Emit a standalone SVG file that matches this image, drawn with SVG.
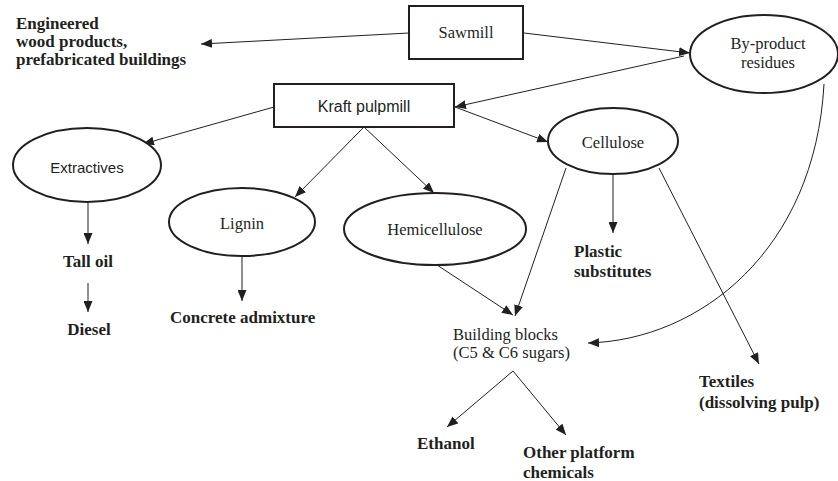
<svg xmlns="http://www.w3.org/2000/svg" width="838" height="481" viewBox="0 0 838 481">
<style>
.node{fill:#fff;stroke:#231f20;stroke-width:2}
.serif{font-family:"Liberation Serif","Times New Roman",serif;font-size:16.5px;fill:#231f20}
.bold{font-family:"Liberation Serif","Times New Roman",serif;font-size:17px;font-weight:bold;fill:#231f20}
.sans{font-family:"Liberation Sans",Arial,sans-serif;fill:#231f20}
.c{text-anchor:middle}
.edge{fill:none;stroke:#231f20;stroke-width:1;marker-end:url(#ah)}
</style>
<defs>
<marker id="ah" markerUnits="userSpaceOnUse" markerWidth="11" markerHeight="9" refX="11" refY="4.5" orient="auto">
<path d="M0,0 L11,4.5 L0,9 z" fill="#231f20"/>
</marker>
</defs>
<rect width="838" height="481" fill="#fff"/>
<g id="connectors">
<line class="edge" x1="409" y1="33" x2="201" y2="44"/>
<line class="edge" x1="524" y1="33" x2="690" y2="53"/>
<line class="edge" x1="684" y1="56" x2="455" y2="107"/>
<line class="edge" x1="455" y1="107" x2="548" y2="142"/>
<line class="edge" x1="274" y1="107" x2="143" y2="144"/>
<line class="edge" x1="364" y1="127" x2="295" y2="197"/>
<line class="edge" x1="364" y1="127" x2="434" y2="193"/>
<line class="edge" x1="88" y1="203" x2="88" y2="244"/>
<line class="edge" x1="88" y1="283" x2="88" y2="312"/>
<line class="edge" x1="242" y1="257" x2="242" y2="301"/>
<line class="edge" x1="437" y1="265" x2="513" y2="315"/>
<line class="edge" x1="566" y1="168" x2="515" y2="316"/>
<line class="edge" x1="613" y1="175" x2="613" y2="233"/>
<line class="edge" x1="659" y1="168" x2="759" y2="364"/>
<path class="edge" d="M824,84 C815,250 700,340 588,343"/>
<line class="edge" x1="513" y1="371" x2="447" y2="427"/>
<line class="edge" x1="513" y1="371" x2="566" y2="435"/>
</g>
<g id="sawmill">
<rect class="node" x="409" y="6" width="114" height="53"/>
<text class="serif c" x="466" y="38">Sawmill</text>
</g>
<g id="kraft">
<rect class="node" x="274" y="84" width="180" height="43"/>
<text class="sans c" x="364" y="112" font-size="16">Kraft pulpmill</text>
</g>
<g id="byproduct">
<ellipse class="node" cx="764" cy="54" rx="74" ry="39"/>
<text class="serif c" x="768" y="49">By-product</text>
<text class="serif c" x="768" y="68">residues</text>
</g>
<g id="cellulose">
<ellipse class="node" cx="613" cy="141" rx="65" ry="33"/>
<text class="serif c" x="613" y="148">Cellulose</text>
</g>
<g id="extractives">
<ellipse class="node" cx="87" cy="165" rx="74" ry="37"/>
<text class="sans c" x="87" y="173" font-size="15">Extractives</text>
</g>
<g id="lignin">
<ellipse class="node" cx="242" cy="222" rx="73" ry="34"/>
<text class="serif c" x="242" y="229">Lignin</text>
</g>
<g id="hemicellulose">
<ellipse class="node" cx="435" cy="229" rx="91" ry="36"/>
<text class="serif c" x="435" y="235">Hemicellulose</text>
</g>
<g id="engineered">
<text class="bold" x="16" y="29">Engineered</text>
<text class="bold" x="16" y="47">wood products,</text>
<text class="bold" x="16" y="65">prefabricated buildings</text>
</g>
<g id="talloil"><text class="bold c" x="88" y="267">Tall oil</text></g>
<g id="diesel"><text class="bold c" x="89" y="335">Diesel</text></g>
<g id="concrete"><text class="bold" x="170" y="323">Concrete admixture</text></g>
<g id="plastic">
<text class="bold" x="574" y="257">Plastic</text>
<text class="bold" x="574" y="277">substitutes</text>
</g>
<g id="textiles">
<text class="bold" x="699" y="387">Textiles</text>
<text class="bold" x="699" y="408">(dissolving pulp)</text>
</g>
<g id="buildingblocks">
<text class="serif" x="453" y="340">Building blocks</text>
<text class="serif" x="453" y="358">(C5 &amp; C6 sugars)</text>
</g>
<g id="ethanol"><text class="bold" x="417" y="449">Ethanol</text></g>
<g id="other">
<text class="bold" x="523" y="458">Other platform</text>
<text class="bold" x="523" y="478">chemicals</text>
</g>
</svg>
